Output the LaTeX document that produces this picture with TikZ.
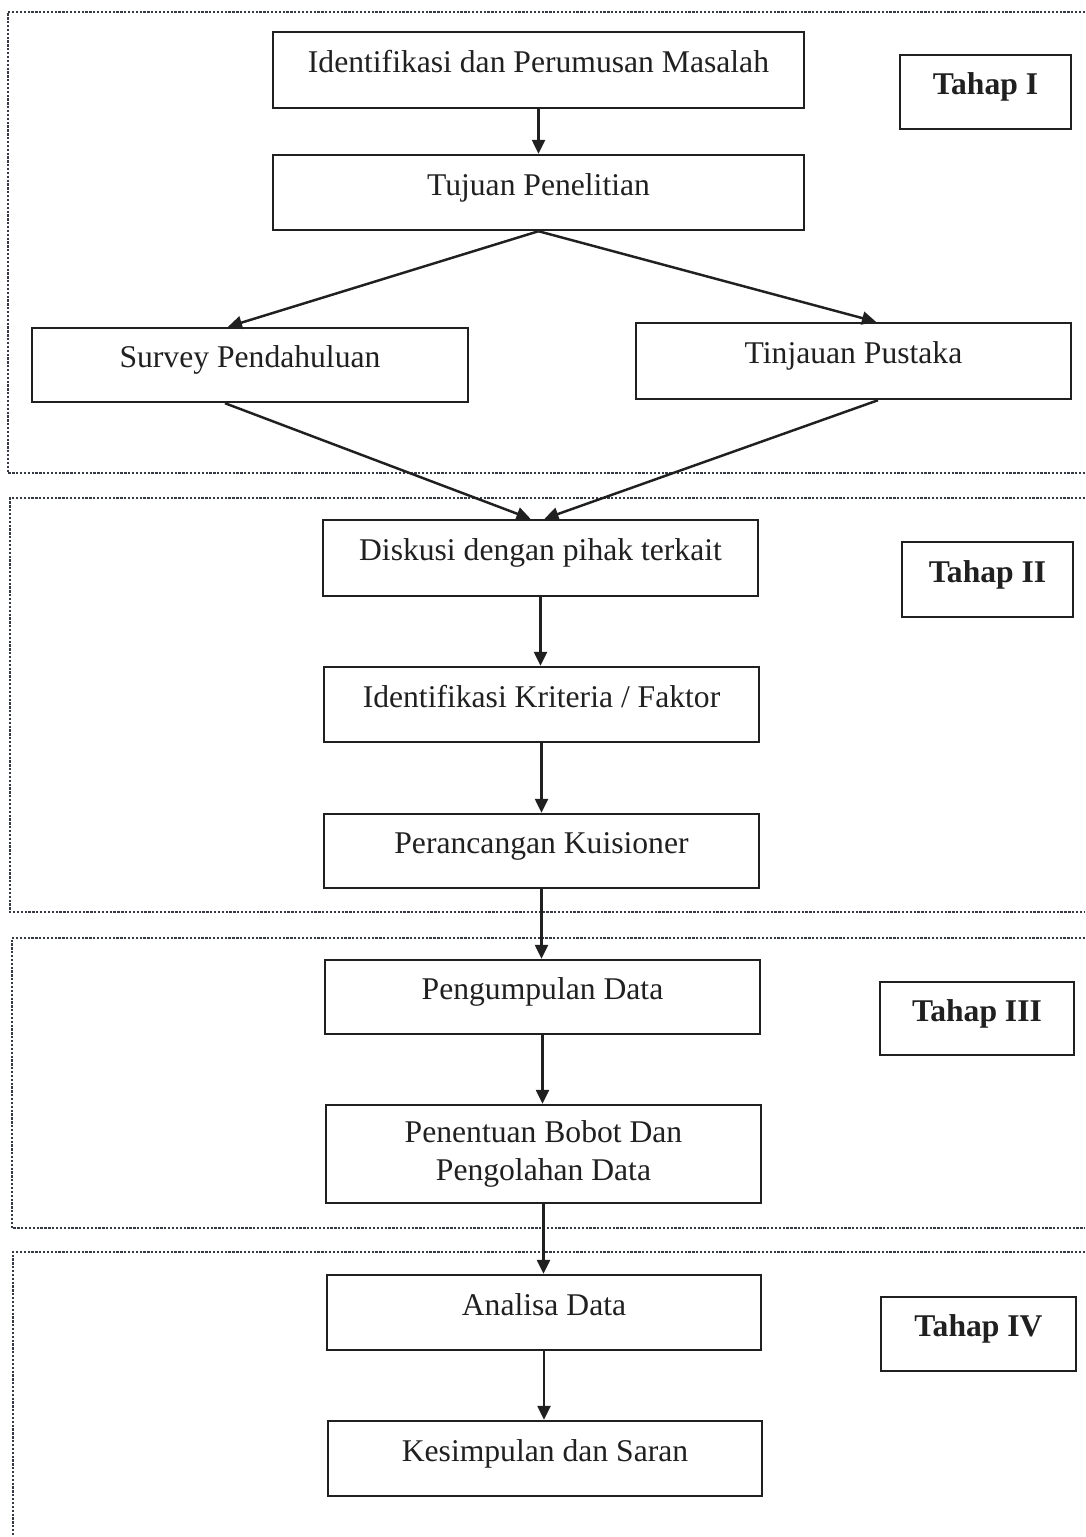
\documentclass[tikz,border=0pt]{standalone}
\usepackage{fontspec}
\setmainfont{Liberation Serif}
\usetikzlibrary{arrows.meta}
\definecolor{ink}{HTML}{202020}
\definecolor{dots}{HTML}{353A44}
\begin{document}
\begin{tikzpicture}[x=0.02cm,y=-0.02cm,
  box/.style={draw=ink,line width=1.4pt,inner sep=0pt,text=ink,
    font=\fontsize{18}{21.6}\selectfont,text height=0.7em,text depth=0.4em},
  stagebox/.style={box,font=\fontsize{18}{21.6}\selectfont\bfseries},
  flow/.style={draw=ink,line width=1.4pt,-{Triangle[length=0.28cm,width=0.26cm]}},
  frame/.style={draw=dots,line width=1.5pt,dash pattern=on 1.3pt off 0.9pt}]
\fill[white] (0,0) rectangle (1085,1537);
\useasboundingbox (0,0) rectangle (1085,1537);

% stage frames, open on the right
\draw[frame] (1085,12) -- (8,12) -- (8,473) -- (1085,473);
\draw[frame] (1085,498) -- (10,498) -- (10,912) -- (1085,912);
\draw[frame] (1085,938) -- (12,938) -- (12,1228) -- (1085,1228);
\draw[frame] (1085,1252) -- (13,1252) -- (13,1537);

% process boxes
\node[box,minimum width=10.62cm,minimum height=1.52cm] (b1) at (538.5,70) {Identifikasi dan Perumusan Masalah};
\node[box,minimum width=10.62cm,minimum height=1.5cm] (b2) at (538.5,192.5) {Tujuan Penelitian};
\node[box,minimum width=8.72cm,minimum height=1.48cm] (b3) at (250,365) {Survey Pendahuluan};
\node[box,minimum width=8.7cm,minimum height=1.52cm] (b4) at (853.5,361) {Tinjauan Pustaka};
\node[box,minimum width=8.7cm,minimum height=1.52cm] (b5) at (540.5,558) {Diskusi dengan pihak terkait};
\node[box,minimum width=8.7cm,minimum height=1.5cm] (b6) at (541.5,704.5) {Identifikasi Kriteria / Faktor};
\node[box,minimum width=8.7cm,minimum height=1.48cm] (b7) at (541.5,851) {Perancangan Kuisioner};
\node[box,minimum width=8.7cm,minimum height=1.48cm] (b8) at (542.5,997) {Pengumpulan Data};
\node[box,minimum width=8.7cm,minimum height=1.96cm,align=center,text height=,text depth=] (b9) at (543.5,1154) {Penentuan Bobot Dan\\Pengolahan Data};
\node[box,minimum width=8.68cm,minimum height=1.5cm] (b10) at (544,1312.5) {Analisa Data};
\node[box,minimum width=8.68cm,minimum height=1.5cm] (b11) at (545,1458.5) {Kesimpulan dan Saran};

% stage labels
\node[stagebox,minimum width=3.42cm,minimum height=1.48cm] (t1) at (985.5,92) {Tahap I};
\node[stagebox,minimum width=3.42cm,minimum height=1.5cm] (t2) at (987.5,579.5) {Tahap II};
\node[stagebox,minimum width=3.88cm,minimum height=1.46cm] (t3) at (977,1018.5) {Tahap III};
\node[stagebox,minimum width=3.9cm,minimum height=1.48cm] (t4) at (978.5,1334) {Tahap IV};

% connectors
\draw[flow] (b1.south) -- (b1.south |- b2.north);
\draw[flow] (b2.south) -- ([xshift=-0.44cm]b3.north);
\draw[flow] (b2.south) -- ([xshift=0.45cm]b4.north);
\draw[flow] ([xshift=-0.5cm]b3.south) -- ([xshift=-0.2cm]b5.north);
\draw[flow] ([xshift=0.49cm]b4.south) -- ([xshift=0.08cm]b5.north);
\draw[flow] (b5.south) -- (b5.south |- b6.north);
\draw[flow] (b6.south) -- (b6.south |- b7.north);
\draw[flow] (b7.south) -- (b7.south |- b8.north);
\draw[flow] (b8.south) -- (b8.south |- b9.north);
\draw[flow] (b9.south) -- (b9.south |- b10.north);
\draw[flow] (b10.south) -- (b10.south |- b11.north);
\end{tikzpicture}
\end{document}
